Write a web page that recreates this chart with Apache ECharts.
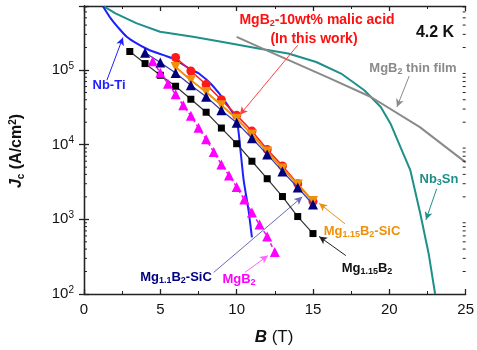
<!DOCTYPE html>
<html>
<head>
<meta charset="utf-8">
<script src="https://cdn.jsdelivr.net/npm/echarts@6/dist/echarts.min.js"></script>
<style>
    html, body { margin: 0; padding: 0; background: #fff; }
    #main { width: 477px; height: 350px; }
</style>
</head>
<body>
<div id="main"></div>
<script>
// field values B (T) and Jc (A/cm2)
var bMg115 = [3, 4, 5, 6, 7, 8, 9, 10, 11, 12, 13, 14, 15];
var jMg115 = [1.77e5, 1.22e5, 8.5e4, 6.06e4, 4.06e4, 2.72e4, 1.67e4, 1.03e4, 6.0e3, 3.5e3, 2.02e3, 1.09e3, 645];

var bMalic = [6, 7, 8, 9, 10, 11, 12, 13, 14, 15];
var jMalic = [1.47e5, 9.7e4, 6.4e4, 4.0e4, 2.47e4, 1.52e4, 8.6e3, 5.2e3, 3.0e3, 1.73e3];

var bMg115SiC = [6, 7, 8, 9, 10, 11, 12, 13, 14, 15];
var jMg115SiC = [1.10e5, 7.3e4, 5.08e4, 3.37e4, 2.23e4, 1.37e4, 8.1e3, 4.8e3, 2.93e3, 1.76e3];

var bMg11SiC = [4, 5, 6, 7, 8, 9, 10, 11, 12, 13, 14, 15];
var jMg11SiC = [1.70e5, 1.26e5, 9.1e4, 6.25e4, 4.38e4, 2.89e4, 1.97e4, 1.22e4, 7.4e3, 4.38e3, 2.67e3, 1.58e3];

var bMgB2 = [4.5, 5, 5.5, 6, 6.5, 7, 7.5, 8, 8.5, 9, 9.5, 10, 10.5, 11, 11.5, 12, 12.5];
var jMgB2 = [1.31e5, 9.2e4, 6.55e4, 4.73e4, 3.37e4, 2.44e4, 1.68e4, 1.18e4, 7.96e3, 5.44e3, 3.87e3, 2.71e3, 1.85e3, 1.23e3, 850, 590, 364];

var bNbTi = [1.25, 1.75, 2.2, 2.8, 3.45, 4.3, 5.8, 7.1, 7.53, 8.4, 9.27, 10.0, 10.25, 10.46, 10.78, 11.0];
var jNbTi = [7.1e5, 4.91e5, 3.79e5, 2.78e5, 2.27e5, 1.84e5, 1.43e5, 9.9e4, 8.97e4, 6.25e4, 3.73e4, 2.12e4, 8.4e3, 3.32e3, 1.31e3, 575];

var bNb3Sn = [1.3, 2.06, 3.46, 4.98, 7.14, 9.09, 11.43, 13.38, 15.21, 16.84, 18.36, 19.44, 20.08, 20.73, 21.38, 22.03, 22.58, 23.0];
var jNb3Sn = [7.1e5, 5.73e5, 4.21e5, 3.25e5, 2.78e5, 2.38e5, 1.94e5, 1.66e5, 1.28e5, 8.97e4, 5.36e4, 3.2e4, 1.91e4, 9.3e3, 4.52e3, 1.19e3, 344, 100];

var bFilm = [10, 12, 14, 16, 18.8, 22, 25];
var jFilm = [2.78e5, 1.82e5, 1.2e5, 7.9e4, 4.35e4, 1.72e4, 5.8e3];

var xTicks = [0, 5, 10, 15, 20, 25];
var yMin = 100, yMax = 7.2e5;

var FONT = 'Arial, "Liberation Sans", sans-serif';

function zip(bs, js) {
    var out = [];
    for (var i = 0; i < bs.length; i++) {
        out.push([bs[i], js[i]]);
    }
    return out;
}

// log minor ticks 2..9 x 10^n
var minorVals = [];
for (var d = 2; d <= 5; d++) {
    for (var k = 2; k <= 9; k++) {
        var v = k * Math.pow(10, d);
        if (v < yMax) minorVals.push([0, v]);
    }
}

// arrow helper: [from, to] in data coords
function arrow(color, from, to, head) {
    return {
        name: 'arrow',
        type: 'line',
        data: [],
        silent: true,
        markLine: {
            silent: true,
            animation: false,
            symbol: ['none', head === false ? 'none' : 'arrow'],
            symbolSize: [6, 8],
            label: { show: false },
            lineStyle: { color: color, width: 1, type: 'solid' },
            data: [[{ coord: from }, { coord: to }]]
        }
    };
}

var supStyle = { fontSize: 10, fontFamily: FONT, padding: [0, 0, 8, 0] };
var subStyle = { fontSize: 9, fontWeight: 'bold', fontFamily: FONT, padding: [7, 0, 0, 0] };

function label(x, y, text, color, size, align) {
    return {
        type: 'text',
        x: x,
        y: y,
        style: {
            text: text,
            fill: color,
            font: 'bold ' + size + 'px ' + FONT,
            align: align || 'center',
            verticalAlign: 'middle',
            rich: {
                sub: Object.assign({}, subStyle, { fill: color, color: color }),
                n: { fontSize: size, fontWeight: 'bold', fontFamily: FONT, fill: color, color: color }
            }
        }
    };
}

var myChart = echarts.init(document.getElementById('main'), null, { renderer: 'canvas' });

var axisLineStyle = { color: '#222', width: 1.3 };

var option = {
    animation: false,
    backgroundColor: '#fff',
    grid: { left: 84, right: 8, top: 6, bottom: 56 },
    xAxis: [{
        type: 'value',
        min: 0,
        max: 25,
        interval: 5,
        axisLine: { show: true, lineStyle: axisLineStyle },
        axisTick: { show: true, inside: true, length: 5, lineStyle: axisLineStyle },
        minorTick: { show: true, splitNumber: 2, length: 3, lineStyle: { color: '#222', width: 1 } },
        splitLine: { show: false },
        axisLabel: {
            margin: 8, fontSize: 15, color: '#111', fontFamily: FONT,
            formatter: function (v) { return xTicks.indexOf(v) >= 0 ? String(v) : ''; }
        }
    }, {
        type: 'value',
        position: 'top',
        min: 0,
        max: 25,
        interval: 5,
        axisLine: { show: true, lineStyle: axisLineStyle },
        axisTick: { show: true, inside: true, length: 5, lineStyle: axisLineStyle },
        minorTick: { show: true, splitNumber: 2, length: 3, lineStyle: { color: '#222', width: 1 } },
        splitLine: { show: false },
        axisLabel: { show: false }
    }],
    yAxis: [{
        type: 'log',
        logBase: 10,
        min: yMin,
        max: yMax,
        axisLine: { show: true, lineStyle: axisLineStyle },
        axisTick: { show: true, inside: true, length: 5, lineStyle: axisLineStyle },
        splitLine: { show: false },
        axisLabel: {
            margin: 10, fontSize: 15, color: '#111', fontFamily: FONT,
            formatter: function (v) {
                var e = Math.round(Math.log(v) / Math.LN10);
                if (Math.abs(Math.pow(10, e) - v) / v > 1e-6) return '';
                return '10{sup|' + e + '}';
            },
            rich: { sup: supStyle }
        }
    }, {
        type: 'log',
        logBase: 10,
        position: 'right',
        min: yMin,
        max: yMax,
        axisLine: { show: true, lineStyle: axisLineStyle },
        axisTick: { show: true, inside: true, length: 5, lineStyle: axisLineStyle },
        splitLine: { show: false },
        axisLabel: { show: false }
    }],
    graphic: [
        label(317, 20, 'MgB{sub|2}-10wt% malic acid', '#ff1010', 14),
        label(314, 39, '(In this work)', '#ff1010', 14),
        label(435, 33, '4.2 K', '#111', 16),
        label(413, 68, 'MgB{sub|2} thin film', '#8a8a8a', 13),
        label(109, 85, 'Nb-Ti', '#1f1fff', 13),
        label(439, 179, 'Nb{sub|3}Sn', '#1f8f8a', 13),
        label(362, 231, 'Mg{sub|1.15}B{sub|2}-SiC', '#f0900a', 13),
        label(367, 268, 'Mg{sub|1.15}B{sub|2}', '#111', 13),
        label(176, 277, 'Mg{sub|1.1}B{sub|2}-SiC', '#000080', 13),
        label(239, 279, 'MgB{sub|2}', '#ff00ff', 13),
        {
            type: 'text',
            x: 17,
            y: 151,
            rotation: Math.PI / 2,
            style: {
                text: '{i|J}{s|c} (A/cm{p|2})',
                font: 'bold 16px ' + FONT,
                fill: '#111',
                align: 'center',
                verticalAlign: 'middle',
                rich: {
                    i: { fontSize: 16, fontStyle: 'italic', fontWeight: 'bold', fontFamily: FONT },
                    s: { fontSize: 10, fontWeight: 'bold', fontFamily: FONT, padding: [8, 0, 0, 0] },
                    p: { fontSize: 10, fontWeight: 'bold', fontFamily: FONT, padding: [0, 0, 8, 0] }
                }
            }
        },
        {
            type: 'text',
            x: 274,
            y: 337,
            style: {
                text: '{b|B} (T)',
                font: '17px ' + FONT,
                fill: '#111',
                align: 'center',
                verticalAlign: 'middle',
                rich: {
                    b: { fontSize: 17, fontStyle: 'italic', fontWeight: 'bold', fontFamily: FONT }
                }
            }
        }
    ],
    series: [
        // reference conductors
        {
            name: 'Nb3Sn', type: 'line', data: zip(bNb3Sn, jNb3Sn), showSymbol: false, clip: true,
            lineStyle: { color: '#1f8f8a', width: 2 }, z: 2
        },
        {
            name: 'MgB2 thin film', type: 'line', data: zip(bFilm, jFilm), showSymbol: false, clip: true,
            lineStyle: { color: '#8a8a8a', width: 2 }, z: 2
        },
        {
            name: 'Nb-Ti', type: 'line', data: zip(bNbTi, jNbTi), showSymbol: false, clip: true,
            smooth: 0.2,
            lineStyle: { color: '#1f1fff', width: 2 }, z: 3
        },
        // wires
        {
            name: 'MgB2-10wt% malic acid', type: 'line', data: zip(bMalic, jMalic),
            symbol: 'circle', symbolSize: 9,
            itemStyle: { color: '#ff1a1a' },
            lineStyle: { color: '#ff1a1a', width: 1.5 }, z: 4
        },
        {
            name: 'Mg1.15B2-SiC', type: 'line', data: zip(bMg115SiC, jMg115SiC),
            symbol: 'triangle', symbolRotate: 180, symbolSize: 10,
            itemStyle: { color: '#f0900a' },
            lineStyle: { color: '#f0900a', width: 2 }, z: 5
        },
        {
            name: 'Mg1.1B2-SiC', type: 'line', data: zip(bMg11SiC, jMg11SiC),
            symbol: 'triangle', symbolSize: 10,
            itemStyle: { color: '#00007f' },
            lineStyle: { color: '#3a3ab0', width: 1.2 }, z: 6
        },
        {
            name: 'Mg1.15B2', type: 'line', data: zip(bMg115, jMg115),
            symbol: 'rect', symbolSize: 7,
            itemStyle: { color: '#000' },
            lineStyle: { color: '#333', width: 1.2 }, z: 6
        },
        {
            name: 'MgB2', type: 'line', data: zip(bMgB2, jMgB2),
            symbol: 'triangle', symbolSize: 10,
            itemStyle: { color: '#ff00ff' },
            lineStyle: { color: '#ff00ff', width: 1.5, type: [4, 3] }, z: 6
        },
        // log minor ticks, left and right
        {
            name: 'minor', type: 'custom', data: minorVals, silent: true, z: 10,
            renderItem: function (params, api) {
                var l = api.coord([0, api.value(1)]);
                var r = api.coord([25, api.value(1)]);
                return {
                    type: 'group',
                    children: [
                        { type: 'line', shape: { x1: l[0], y1: l[1], x2: l[0] + 3, y2: l[1] }, style: { stroke: '#222', lineWidth: 1 } },
                        { type: 'line', shape: { x1: r[0], y1: r[1], x2: r[0] - 3, y2: r[1] }, style: { stroke: '#222', lineWidth: 1 } }
                    ]
                };
            }
        },
        // annotation arrows
        arrow('#ff4040', [14.0, 2.15e5], [10.2, 2.5e4]),
        arrow('#1f1fff', [1.5, 7.3e4], [2.55, 2.73e5]),
        arrow('#8a8a8a', [21.3, 8.3e4], [20.5, 3.2e4]),
        arrow('#1f8f8a', [23.1, 2.56e3], [22.4, 985]),
        arrow('#f0900a', [17.1, 870], [15.4, 1.64e3]),
        arrow('#222', [17.15, 327], [15.4, 590]),
        arrow('#6a6ab8', [8.5, 195], [14.3, 2.0e3]),
        arrow('#ff66ff', [10.55, 195], [12.05, 327])
    ]
};

myChart.setOption(option);
</script>
</body>
</html>
